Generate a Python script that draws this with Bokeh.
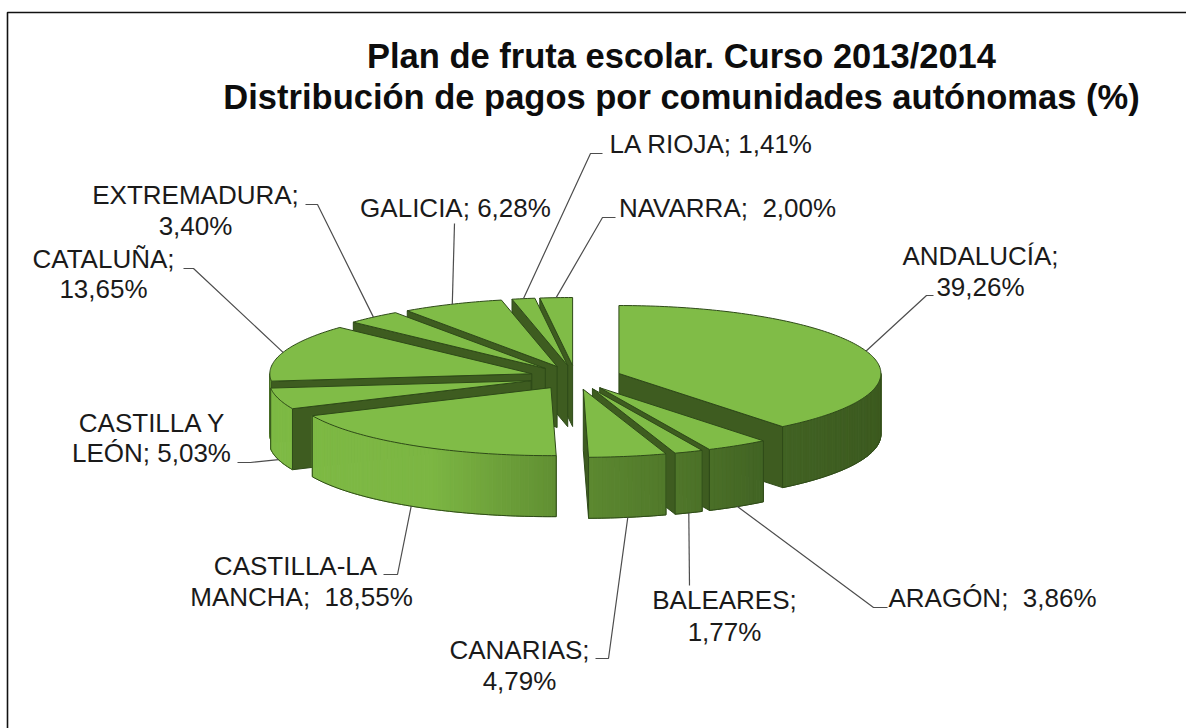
import math
from bokeh.plotting import figure
from bokeh.models import Range1d
from bokeh.core.properties import value
from bokeh.embed import file_html
from bokeh.resources import INLINE

# ---- data ----
regions = ["ANDALUCÍA", "ARAGÓN", "BALEARES", "CANARIAS", "CASTILLA-LA MANCHA", "CASTILLA Y LEÓN",
           "CATALUÑA", "EXTREMADURA", "GALICIA", "LA RIOJA", "NAVARRA"]
shares = [39.26, 3.86, 1.77, 4.79, 18.55, 5.03, 13.65, 3.40, 6.28, 1.41, 2.00]
title_lines = ["Plan de fruta escolar. Curso 2013/2014",
               "Distribución de pagos por comunidades autónomas (%)"]

# ---- label layout: text line, centre x, y anchor (page pixels) ----
label_text = ["ANDALUCÍA;", "39,26%", "ARAGÓN;\u00a0 3,86%", "BALEARES;", "1,77%", "CANARIAS;", "4,79%",
              "CASTILLA-LA", "MANCHA;\u00a0 18,55%", "CASTILLA Y", "LEÓN; 5,03%", "CATALUÑA;", "13,65%",
              "EXTREMADURA;", "3,40%", "GALICIA; 6,28%", "LA RIOJA; 1,41%", "NAVARRA;\u00a0 2,00%"]
label_x = [980, 980, 992, 724, 724, 519, 519, 295, 301, 152, 151, 103, 103, 195, 195, 455, 711, 727]
label_y = [255.5, 286.5, 597.5, 599.5, 631.5, 649.5, 680.5, 565.5, 596.5, 422.5, 452.5, 258.5, 288.5,
           194.5, 225.5, 207.5, 143.5, 207.5]
title_y = [55.5, 96]

# leader route after the slice anchor, in order of `regions`
leader_route = [[(926, 295), (933, 295)], [(873, 607), (887, 607)], [(689, 585)],
                [(608, 658), (595, 658)], [(397, 574), (383, 574)], [(250, 462), (237, 462)],
                [(193, 268), (183, 268)], [(317, 204), (305, 204)], [(454, 223)],
                [(590, 153), (602, 153)], [(602, 217), (615, 217)]]

# ---- geometry of the exploded 3-D pie ----
CX, CY, RX, RY, DEPTH = 575, 377, 262, 68, 61
EX, EY = 46, 12
TOP = "#80BC47"
FACE = "#3E5C20"
EDGE = "#2E4A18"
LEADER = "#4d4d4d"
STOPS = [(270, (126, 186, 69)), (430, (124, 182, 67)), (558, (96, 142, 50)),
         (660, (82, 122, 43)), (760, (66, 100, 36)), (880, (60, 90, 31))]


def side_colour(x):
    if x <= STOPS[0][0]:
        c = STOPS[0][1]
    elif x >= STOPS[-1][0]:
        c = STOPS[-1][1]
    else:
        for (x0, c0), (x1, c1) in zip(STOPS, STOPS[1:]):
            if x0 <= x <= x1:
                t = (x - x0) / (x1 - x0)
                c = tuple(a + (b - a) * t for a, b in zip(c0, c1))
                break
    return "#%02x%02x%02x" % tuple(int(round(v)) for v in c)


p = figure(width=1186, height=728, x_range=Range1d(0, 1186), y_range=Range1d(728, 0),
           toolbar_location=None, output_backend="svg", min_border=0,
           x_axis_location=None, y_axis_location=None)
p.grid.visible = False
p.outline_line_color = None
p.background_fill_color = "white"

# chart frame (runs off the page to the right and the bottom)
p.line([7, 7, 1186], [728, 12, 12], line_color="#111111", line_width=1.6)

# angles
wedges = []
acc = 0.0
for name, s in zip(regions, shares):
    a0 = acc / 100 * 2 * math.pi
    acc += s
    a1 = acc / 100 * 2 * math.pi
    bis = (a0 + a1) / 2
    ax = CX + EX * math.sin(bis)
    ay = CY - EY * math.cos(bis)
    wedges.append(dict(a0=a0, a1=a1, bis=bis, ax=ax, ay=ay))


def rim(w, a):
    return w["ax"] + RX * math.sin(a), w["ay"] - RY * math.cos(a)


def arc(w, a0, a1, step=math.radians(1.0)):
    n = max(1, int(math.ceil((a1 - a0) / step)))
    return [rim(w, a0 + (a1 - a0) * i / n) for i in range(n + 1)]


for w in sorted(wedges, key=lambda q: -math.cos(q["bis"])):
    ax, ay = w["ax"], w["ay"]
    # radial faces that look to the viewer
    for a, visible in ((w["a0"], math.sin(w["a0"]) < -1e-9), (w["a1"], math.sin(w["a1"]) > 1e-9)):
        if visible:
            rx_, ry_ = rim(w, a)
            p.patch([ax, rx_, rx_, ax], [ay, ry_, ry_ + DEPTH, ay + DEPTH],
                    fill_color=FACE, line_color=EDGE, line_width=1)
    # outer wall, front part only
    lo = max(w["a0"], math.pi / 2)
    hi = min(w["a1"], 3 * math.pi / 2)
    if hi > lo:
        pts = arc(w, lo, hi)
        xs, ys, cs = [], [], []
        for (x0, y0), (x1, y1) in zip(pts, pts[1:]):
            xs.append([x0, x1, x1, x0])
            ys.append([y0, y1, y1 + DEPTH, y0 + DEPTH])
            cs.append(side_colour((x0 + x1) / 2))
        p.patches(xs, ys, fill_color=cs, line_color=cs, line_width=1)
        p.line([q[0] for q in pts], [q[1] + DEPTH for q in pts], line_color=EDGE, line_width=1)
        for q in (pts[0], pts[-1]):
            p.line([q[0], q[0]], [q[1], q[1] + DEPTH], line_color=EDGE, line_width=1)
    # top face
    pts = arc(w, w["a0"], w["a1"])
    p.patch([ax] + [q[0] for q in pts], [ay] + [q[1] for q in pts],
            fill_color=TOP, line_color=EDGE, line_width=1)

# leaders, from the middle of each slice's rim (lower rim on the front half)
for w, route in zip(wedges, leader_route):
    x0, y0 = rim(w, w["bis"])
    if math.cos(w["bis"]) < 0:
        y0 += DEPTH
    p.line([x0] + [q[0] for q in route], [y0] + [q[1] for q in route],
           line_color=LEADER, line_width=1.2)

# labels
p.text(label_x, label_y, text=label_text, text_font=value("Liberation Sans"),
       text_font_size="26px", text_color="#1a1a1a", text_align="center", text_baseline="alphabetic")

# title
p.text([681, 681], title_y, text=title_lines, text_font=value("Liberation Sans"),
       text_font_style="bold", text_font_size="34.5px", text_color="#0d0d0d",
       text_align="center", text_baseline="alphabetic")

open("out.html", "w").write(file_html(p, INLINE))
